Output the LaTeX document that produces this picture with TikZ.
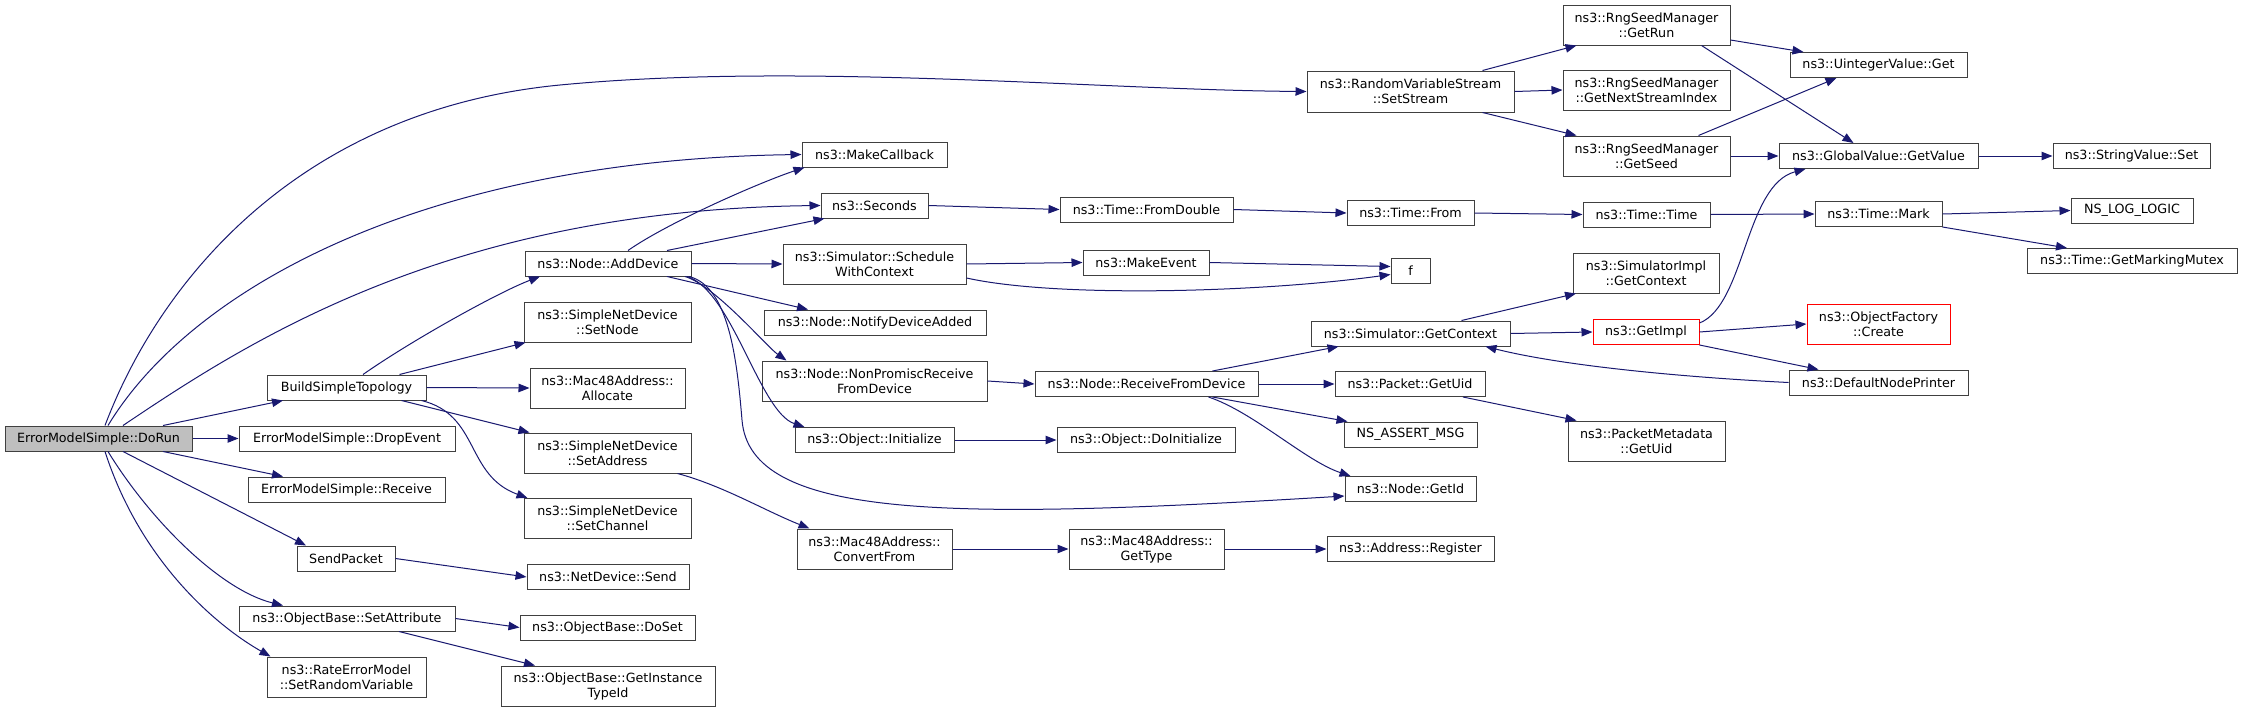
\documentclass[tikz,border=0pt]{standalone}
\usepackage{fontspec}
\setmainfont{DejaVu Sans}
\usetikzlibrary{arrows.meta, positioning}
\definecolor{edgeblue}{HTML}{191970}
\definecolor{boxgray}{HTML}{404040}
\definecolor{rootfill}{HTML}{BFBFBF}
\tikzset{
    func/.style={rectangle, draw=boxgray, line width=1pt, fill=white, minimum height=25, inner sep=0pt, align=center, font=\fontsize{12.7}{15}\selectfont},
    rootfunc/.style={func, fill=rootfill},
    truncfunc/.style={func, draw=red},
    arrow/.style={-{Triangle[length=11pt, width=8.5pt]}, line width=1pt, draw=edgeblue}
}
\begin{document}
\begin{tikzpicture}[x=1pt, y=-1pt]
        \useasboundingbox (0,0) rectangle (2243,712);
        % column 0 and 1
        \node[rootfunc, minimum width=187] (dorun) at (98.5,438.5) {ErrorModelSimple::DoRun};
        \node[func, minimum width=159] (build) at (346.5,387.5) {BuildSimpleTopology};
        \node[func, minimum width=216] (dropevent) at (347,438.5) {ErrorModelSimple::DropEvent};
        \node[func, minimum width=197] (receive) at (346.5,489.5) {ErrorModelSimple::Receive};
        \node[func, minimum width=98] (sendpacket) at (346,558.5) {SendPacket};
        \node[func, minimum width=216] (setattr) at (347,618.5) {ns3::ObjectBase::SetAttribute};
        \node[func, minimum width=159, minimum height=40] (setrv) at (346.5,677) {ns3::RateErrorModel\\::SetRandomVariable};
        % column 2
        \node[func, minimum width=166] (adddevice) at (608,263.5) {ns3::Node::AddDevice};
        \node[func, minimum width=167, minimum height=40] (setnode) at (607.5,322) {ns3::SimpleNetDevice\\::SetNode};
        \node[func, minimum width=155, minimum height=40] (allocate) at (607.5,388) {ns3::Mac48Address::\\Allocate};
        \node[func, minimum width=167, minimum height=40] (setaddress) at (607.5,453) {ns3::SimpleNetDevice\\::SetAddress};
        \node[func, minimum width=167, minimum height=40] (setchannel) at (607.5,518.5) {ns3::SimpleNetDevice\\::SetChannel};
        \node[func, minimum width=162] (netsend) at (608,577) {ns3::NetDevice::Send};
        \node[func, minimum width=175] (doset) at (607.5,627.5) {ns3::ObjectBase::DoSet};
        \node[func, minimum width=214, minimum height=40] (typeid) at (608,686) {ns3::ObjectBase::GetInstance\\TypeId};
        % column 3
        \node[func, minimum width=145] (makecallback) at (874.5,154.5) {ns3::MakeCallback};
        \node[func, minimum width=107] (seconds) at (874.5,205.5) {ns3::Seconds};
        \node[func, minimum width=183, minimum height=40] (schedule) at (874.5,264) {ns3::Simulator::Schedule\\WithContext};
        \node[func, minimum width=222] (notify) at (875,322.5) {ns3::Node::NotifyDeviceAdded};
        \node[func, minimum width=225, minimum height=40] (nonpromisc) at (874.5,381) {ns3::Node::NonPromiscReceive\\FromDevice};
        \node[func, minimum width=159] (initialize) at (874.5,440) {ns3::Object::Initialize};
        \node[func, minimum width=155, minimum height=40] (convertfrom) at (874.5,549) {ns3::Mac48Address::\\ConvertFrom};
        % column 4
        \node[func, minimum width=173] (fromdouble) at (1146.5,209.5) {ns3::Time::FromDouble};
        \node[func, minimum width=126] (makeevent) at (1146,262.5) {ns3::MakeEvent};
        \node[func, minimum width=223] (recvfromdev) at (1146.5,384) {ns3::Node::ReceiveFromDevice};
        \node[func, minimum width=178] (doinit) at (1146,440) {ns3::Object::DoInitialize};
        \node[func, minimum width=155, minimum height=40] (gettype) at (1146.5,549) {ns3::Mac48Address::\\GetType};
        % column 5
        \node[func, minimum width=207, minimum height=41] (setstream) at (1410.5,91.5) {ns3::RandomVariableStream\\::SetStream};
        \node[func, minimum width=127] (timefrom) at (1410.5,213) {ns3::Time::From};
        \node[func, minimum width=39] (fnode) at (1410.5,270.5) {f};
        \node[func, minimum width=199] (simctx) at (1410.5,333.5) {ns3::Simulator::GetContext};
        \node[func, minimum width=150] (pktuid) at (1410,384) {ns3::Packet::GetUid};
        \node[func, minimum width=133] (assertmsg) at (1410.5,434.5) {NS\_ASSERT\_MSG};
        \node[func, minimum width=131] (getid) at (1410.5,489) {ns3::Node::GetId};
        \node[func, minimum width=167] (addrreg) at (1410.5,549) {ns3::Address::Register};
        % column 6
        \node[func, minimum width=167, minimum height=40] (getrun) at (1646.5,25) {ns3::RngSeedManager\\::GetRun};
        \node[func, minimum width=167, minimum height=40] (nextstream) at (1646.5,90) {ns3::RngSeedManager\\::GetNextStreamIndex};
        \node[func, minimum width=167, minimum height=40] (getseed) at (1646.5,156) {ns3::RngSeedManager\\::GetSeed};
        \node[func, minimum width=127] (timetime) at (1646.5,214.5) {ns3::Time::Time};
        \node[func, minimum width=146, minimum height=40] (implctx) at (1646,273) {ns3::SimulatorImpl\\::GetContext};
        \node[truncfunc, minimum width=106] (getimpl) at (1646,332) {ns3::GetImpl};
        \node[func, minimum width=157, minimum height=40] (pktmeta) at (1646.5,441) {ns3::PacketMetadata\\::GetUid};
        % column 7 and 8
        \node[func, minimum width=177] (uintget) at (1878.5,65) {ns3::UintegerValue::Get};
        \node[func, minimum width=199] (globalget) at (1878.5,156) {ns3::GlobalValue::GetValue};
        \node[func, minimum width=127] (timemark) at (1878.5,214) {ns3::Time::Mark};
        \node[truncfunc, minimum width=143, minimum height=40] (objcreate) at (1878.5,324) {ns3::ObjectFactory\\::Create};
        \node[func, minimum width=179] (nodeprinter) at (1878.5,382.5) {ns3::DefaultNodePrinter};
        \node[func, minimum width=157] (stringset) at (2131.5,156) {ns3::StringValue::Set};
        \node[func, minimum width=122] (loglogic) at (2132,210.5) {NS\_LOG\_LOGIC};
        \node[func, minimum width=210] (markmutex) at (2132,261) {ns3::Time::GetMarkingMutex};
        % calls of DoRun
        \draw[arrow] ([xshift=6.5]dorun.north) .. controls (160,280) and (300,110) .. (560,85) .. controls (800,62) and (1100,90) .. (setstream.west);
        \draw[arrow] ([xshift=9.5]dorun.north) .. controls (190,290) and (420,160) .. (makecallback.west);
        \draw[arrow] ([xshift=24.5]dorun.north) .. controls (250,340) and (450,210) .. (seconds.west);
        \draw[arrow] ([xshift=64.5]dorun.north) -- ([xshift=-63.5]build.south);
        \draw[arrow] (dorun.east) -- (dropevent.west);
        \draw[arrow] ([xshift=64.5]dorun.south) -- ([xshift=-63.5]receive.north);
        \draw[arrow] ([xshift=24.5]dorun.south) -- ([xshift=-40]sendpacket.north);
        \draw[arrow] ([xshift=9.5]dorun.south) .. controls (150,520) and (220,590) .. ([xshift=-64]setattr.north);
        \draw[arrow] ([xshift=6.5]dorun.south) .. controls (140,560) and (215,625) .. ([xshift=-76]setrv.north);
        % calls of BuildSimpleTopology
        \draw[arrow] ([xshift=16.5]build.north) .. controls +(50,-35) and +(-40,15) .. ([xshift=-68]adddevice.south);
        \draw[arrow] ([xshift=53]build.north) -- ([xshift=-82]setnode.south);
        \draw[arrow] (build.east) -- (allocate.west);
        \draw[arrow] ([xshift=55]build.south) -- ([xshift=-78]setaddress.north);
        \draw[arrow] ([xshift=75]build.south) .. controls (480,415) and (465,475) .. ([xshift=-80]setchannel.north);
        \draw[arrow] (sendpacket.east) -- (netsend.west);
        \draw[arrow] (setattr.east) -- (doset.west);
        \draw[arrow] ([xshift=52]setattr.south) -- ([xshift=-73]typeid.north);
        % calls of AddDevice
        \draw[arrow] ([xshift=20]adddevice.north) .. controls +(40,-28) and +(-45,15) .. ([xshift=-70]makecallback.south);
        \draw[arrow] ([xshift=59]adddevice.north) -- ([xshift=-50]seconds.south);
        \draw[arrow] (adddevice.east) -- (schedule.west);
        \draw[arrow] ([xshift=59]adddevice.south) -- ([xshift=-67]notify.north);
        \draw[arrow] ([xshift=77]adddevice.south) .. controls +(30,9) and +(-20,-14) .. ([xshift=-88]nonpromisc.north);
        \draw[arrow] ([xshift=79]adddevice.south) .. controls +(45,14) and +(-45,-15) .. ([xshift=-70]initialize.north);
        \draw[arrow] ([xshift=81]adddevice.south) .. controls +(40,10) and +(-5,-60) .. (742,420) .. controls +(8,100) and (950,520) .. ([yshift=-7]getid.west);
        \draw[arrow] (schedule.east) -- (makeevent.west);
        \draw[arrow] ([yshift=-14]schedule.east) .. controls +(90,20) and +(-130,18) .. ([yshift=-4]fnode.west);
        \draw[arrow] (makeevent.east) -- ([yshift=4]fnode.west);
        \draw[arrow] (nonpromisc.east) -- (recvfromdev.west);
        \draw[arrow] (initialize.east) -- (doinit.west);
        \draw[arrow] ([xshift=70]setaddress.south) .. controls +(45,12) and +(-45,-18) .. ([xshift=-65]convertfrom.north);
        \draw[arrow] (convertfrom.east) -- (gettype.west);
        \draw[arrow] (gettype.east) -- (addrreg.west);
        % calls of ReceiveFromDevice
        \draw[arrow] ([xshift=66]recvfromdev.north) -- ([xshift=-72]simctx.south);
        \draw[arrow] (recvfromdev.east) -- (pktuid.west);
        \draw[arrow] ([xshift=66]recvfromdev.south) -- ([xshift=-63]assertmsg.north);
        \draw[arrow] ([xshift=62]recvfromdev.south) .. controls +(45,15) and +(-45,-15) .. ([xshift=-60]getid.north);
        \draw[arrow] ([xshift=53]pktuid.south) -- ([xshift=-70]pktmeta.north);
        % time chain
        \draw[arrow] (seconds.east) -- (fromdouble.west);
        \draw[arrow] (fromdouble.east) -- (timefrom.west);
        \draw[arrow] (timefrom.east) -- (timetime.west);
        \draw[arrow] (timetime.east) -- (timemark.west);
        \draw[arrow] (timemark.east) -- (loglogic.west);
        \draw[arrow] (timemark.south east) -- ([xshift=-65]markmutex.north);
        % calls of SetStream
        \draw[arrow] ([xshift=72]setstream.north) -- ([xshift=-70]getrun.south);
        \draw[arrow] (setstream.east) -- (nextstream.west);
        \draw[arrow] ([xshift=72]setstream.south) -- ([xshift=-70]getseed.north);
        \draw[arrow] ([yshift=-15]getrun.east) -- ([xshift=-75]uintget.north);
        \draw[arrow] ([xshift=55]getrun.south) -- ([xshift=-25]globalget.north);
        \draw[arrow] ([xshift=52]getseed.north) -- ([xshift=-42]uintget.south);
        \draw[arrow] (getseed.east) -- (globalget.west);
        \draw[arrow] (globalget.east) -- (stringset.west);
        % calls of GetContext
        \draw[arrow] ([xshift=51]simctx.north) -- ([xshift=-70]implctx.south);
        \draw[arrow] (simctx.east) -- (getimpl.west);
        \draw[arrow] ([yshift=-4]getimpl.north east) .. controls (1745,305) and (1745,185) .. ([xshift=-73]globalget.south);
        \draw[arrow] (getimpl.east) -- (objcreate.west);
        \draw[arrow] (getimpl.south east) -- ([xshift=-60]nodeprinter.north);
        \draw[arrow] (nodeprinter.west) .. controls +(-100,-5) and +(80,20) .. ([xshift=-25]simctx.south east);
    \end{tikzpicture}
\end{document}
